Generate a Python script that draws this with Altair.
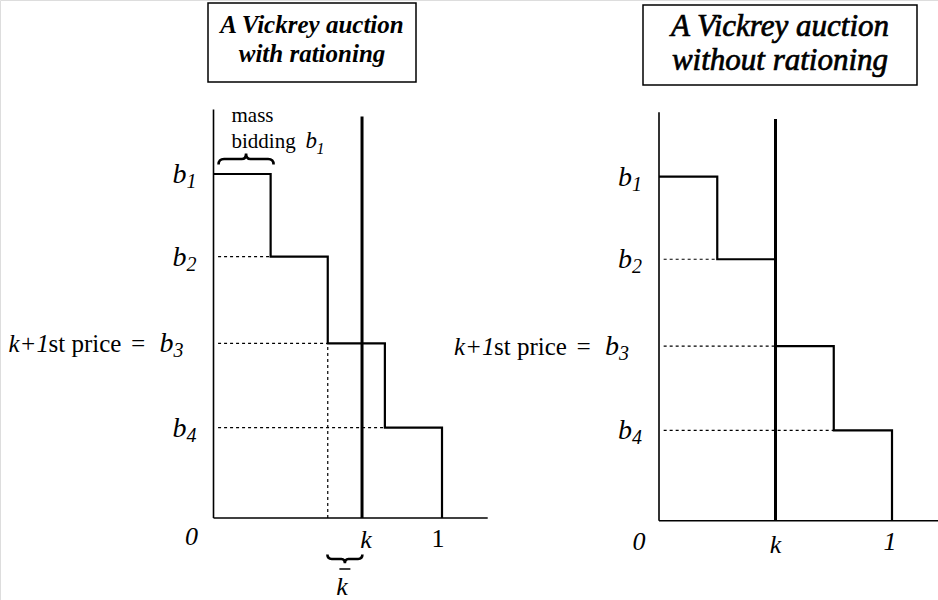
import altair as alt
import pandas as pd

# ---- auction data -------------------------------------------------------
# Each bidder mass covers a quarter of the supply, sorted by bid.
mass_start = [0.0, 0.25, 0.5, 0.75]
mass_end = [0.25, 0.5, 0.75, 1.0]
bids = [4.0, 3.04, 2.03, 1.05]          # b1 > b2 > b3 > b4
bid_index = ["1", "2", "3", "4"]

k_rationing = 0.65                      # supply k, left diagram
kbar_rationing = 0.5                    # units allocated before rationing
k_plain = 0.5                           # supply k, right diagram

x_axis_end = 1.2
y_axis_top = 4.75
k_line_top = 4.67

FONT = "Liberation Serif"
W, H = 938, 600

# ---- brace shapes (custom symbol paths, unit half-length) ---------------
BRACE_UP = ("M -1 0.2 Q -1 0 -0.8 0 L -0.16 0 Q 0 0 0 -0.2 "
            "Q 0 0 0.16 0 L 0.8 0 Q 1 0 1 0.2")
BRACE_DOWN = ("M -1 -0.25 Q -1 0 -0.75 0 L -0.2 0 Q 0 0 0 0.25 "
              "Q 0 0 0.2 0 L 0.75 0 Q 1 0 1 -0.25")


def panel(k, xdom, ydom, axis_labels):
    xs = alt.Scale(domain=xdom, nice=False, zero=False)
    ys = alt.Scale(domain=ydom, nice=False, zero=False)

    def X(f, **kw):
        return alt.X(f, type="quantitative", scale=xs, axis=None, **kw)

    def Y(f, **kw):
        return alt.Y(f, type="quantitative", scale=ys, axis=None, **kw)

    layers = []

    # axes
    axes_df = pd.DataFrame({"q": [0.0, 0.0], "q2": [0.0, x_axis_end],
                            "b": [0.0, 0.0], "b2": [y_axis_top, 0.0]})
    layers.append(alt.Chart(axes_df).mark_rule(color="black", strokeWidth=1.6).encode(
        x=X("q"), x2="q2", y=Y("b"), y2="b2"))

    # dotted guides from the axis to each step
    guide_df = pd.DataFrame({"q0": [0.02] * 3, "q1": mass_start[1:], "b": bids[1:]})
    layers.append(alt.Chart(guide_df).mark_rule(
        color="black", strokeWidth=1.2, strokeDash=[3, 3]).encode(
        x=X("q0"), x2="q1", y=Y("b")))

    # bid schedule as a step function
    step_df = pd.DataFrame({"q": mass_start + [mass_end[-1]], "b": bids + [0.0],
                            "o": list(range(5))})
    layers.append(alt.Chart(step_df).mark_line(
        interpolate="step-after", color="black", strokeWidth=2.2).encode(
        x=X("q"), y=Y("b"), order="o"))

    # supply line k
    k_df = pd.DataFrame({"q": [k], "b": [0.0], "b2": [k_line_top]})
    layers.append(alt.Chart(k_df).mark_rule(color="black", strokeWidth=3).encode(
        x=X("q"), y=Y("b"), y2="b2"))

    lab_df = pd.DataFrame({"b": bids, "sub": bid_index, "q": [0.0] * 4})
    base = alt.Chart(lab_df)

    # b labels (b3 gets the long label)
    others = base.transform_filter("datum.sub != '3'")
    layers.append(others.mark_text(
        align="right", baseline="alphabetic", dx=-27, dy=9, font=FONT,
        fontSize=28, fontStyle="italic", text="b").encode(x=X("q"), y=Y("b")))
    layers.append(others.mark_text(
        align="left", baseline="alphabetic", dx=-27, dy=14, font=FONT,
        fontSize=20, fontStyle="italic").encode(x=X("q"), y=Y("b"), text="sub:N"))

    third = base.transform_filter("datum.sub == '3'")
    pieces = [
        ("k+1", -205, 25, "italic", "left"),
        ("st price", -165, 25, "normal", "left"),
        ("=", -84, 25, "italic", "left"),
        ("b", -40, 28, "italic", "right"),
    ]
    for txt, dx, size, style, al in pieces:
        layers.append(third.mark_text(
            align=al, baseline="alphabetic", dx=dx, dy=9, font=FONT,
            fontSize=size, fontStyle=style, text=txt).encode(x=X("q"), y=Y("b")))
    layers.append(third.mark_text(
        align="left", baseline="alphabetic", dx=-40, dy=14, font=FONT,
        fontSize=20, fontStyle="italic").encode(x=X("q"), y=Y("b"), text="sub:N"))

    # x-axis labels 0, k, 1
    for txt, q, dx, dy, style in axis_labels:
        d = pd.DataFrame({"q": [q], "b": [0.0]})
        layers.append(alt.Chart(d).mark_text(
            align="center", baseline="alphabetic", dx=dx, dy=dy, font=FONT,
            fontSize=26, fontStyle=style, text=txt).encode(x=X("q"), y=Y("b")))

    return layers, X, Y


# ---- left diagram: rationing --------------------------------------------
left_layers, LX, LY = panel(
    k_rationing,
    [-0.9344, 3.1707], [-0.9535, 6.0233],
    [("0", 0.0, -22, 27, "italic"), ("k", k_rationing, 4, 30, "italic"),
     ("1", 1.0, -4, 29, "normal")])

# dotted line down from b3 at k-bar
kb_df = pd.DataFrame({"q": [kbar_rationing], "b": [0.0], "b2": [bids[2]]})
left_layers.append(alt.Chart(kb_df).mark_rule(
    color="black", strokeWidth=1.2, strokeDash=[3, 3]).encode(
    x=LX("q"), y=LY("b"), y2="b2"))

# brace over the first bidder mass
top_df = pd.DataFrame({"q": [(mass_start[0] + mass_end[0]) / 2], "b": [bids[0]]})
left_layers.append(alt.Chart(top_df).mark_point(
    shape=BRACE_UP, size=55 ** 2, filled=False, color="black", strokeWidth=2.6,
    opacity=1, xOffset=4, yOffset=-15).encode(x=LX("q"), y=LY("b")))

# "mass bidding b1"
mb_df = pd.DataFrame({"q": [0.0], "b": [bids[0]]})
for txt, dx, dy, size, style in [("mass", 18, -52, 21, "normal"),
                                 ("bidding", 18, -26, 21, "normal"),
                                 ("b", 92, -26, 23, "italic"),
                                 ("1", 103, -20, 16, "italic")]:
    left_layers.append(alt.Chart(mb_df).mark_text(
        align="left", baseline="alphabetic", dx=dx, dy=dy, font=FONT,
        fontSize=size, fontStyle=style, text=txt).encode(x=LX("q"), y=LY("b")))

# brace between k-bar and k, with the k-bar label
bb_df = pd.DataFrame({"q": [(kbar_rationing + k_rationing) / 2], "b": [0.0]})
left_layers.append(alt.Chart(bb_df).mark_point(
    shape=BRACE_DOWN, size=35 ** 2, filled=False, color="black", strokeWidth=2.6,
    opacity=1, yOffset=41).encode(x=LX("q"), y=LY("b")))
left_layers.append(alt.Chart(bb_df).mark_text(
    align="center", baseline="alphabetic", dx=-3, dy=77, font=FONT, fontSize=26,
    fontStyle="italic", text="k").encode(x=LX("q"), y=LY("b")))
left_layers.append(alt.Chart(bb_df).mark_tick(
    orient="horizontal", size=11, thickness=1.5, color="black", opacity=1,
    yOffset=51).encode(x=LX("q"), y=LY("b")))

# ---- right diagram: no rationing ----------------------------------------
right_layers, RX, RY = panel(
    k_plain,
    [-2.8283, 1.1974], [-0.9221, 6.0547],
    [("0", 0.0, -20, 29, "italic"), ("k", k_plain, 0, 32, "italic"),
     ("1", 1.0, -2, 29, "italic")])

# ---- title boxes ---------------------------------------------------------
one = pd.DataFrame({"v": [0]})
titles = []
for x0, x1, y0, y1, text, size, line_h, base_y, weight, outline in [
        (208, 416, 3, 82, "A Vickrey auction\nwith rationing", 25, 29, 33, "bold", 0.0),
        (643, 917, 5, 85, "A Vickrey auction\nwithout rationing", 31, 34, 36, "normal", 0.7)]:
    titles.append(alt.Chart(one).mark_rect(
        filled=False, stroke="black", strokeWidth=1.5).encode(
        x=alt.value(x0), x2=alt.value(x1), y=alt.value(y0), y2=alt.value(y1)))
    titles.append(alt.Chart(one).mark_text(
        align="center", baseline="alphabetic", lineBreak="\n", lineHeight=line_h,
        font=FONT, fontSize=size, fontStyle="italic", fontWeight=weight,
        color="black", stroke="black", strokeWidth=outline,
        text=text).encode(x=alt.value((x0 + x1) / 2), y=alt.value(base_y)))

left = alt.layer(*left_layers, *titles)
right = alt.layer(*right_layers)

chart = alt.layer(left, right).resolve_scale(
    x="independent", y="independent"
).properties(
    width=W, height=H, padding=0, autosize=alt.AutoSizeParams(type="none")
).configure_view(stroke=None).configure(background="white")

chart.save("out.html", embed_options={"renderer": "svg", "actions": False})
